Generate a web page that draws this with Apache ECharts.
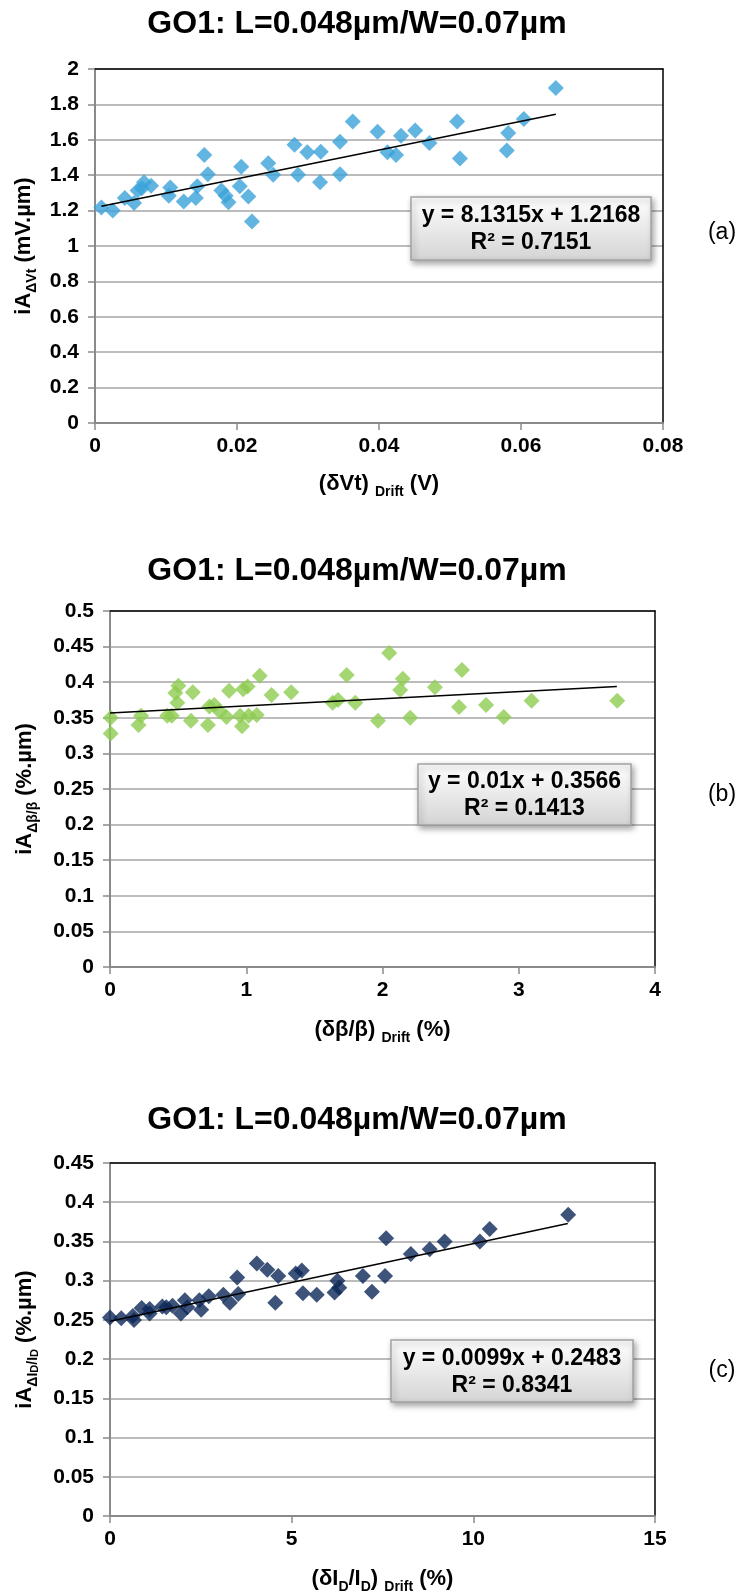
<!DOCTYPE html>
<html>
<head>
<meta charset="utf-8">
<script src="https://cdn.jsdelivr.net/npm/echarts@6/dist/echarts.min.js"></script>
<style>
html,body{margin:0;padding:0;background:#fff;}
#c{width:744px;height:1595px;}
</style>
</head>
<body>
<div id="c"></div>
<script>
// ---------- data ----------
const titleText = 'GO1: L=0.048µm/W=0.07µm';

// (a) iA_ΔVt vs (δVt) Drift
const xA = [0.0009,0.0025,0.0042,0.0055,0.0060,0.0066,0.0069,0.0079,0.0104,0.0106,0.0125,0.0142,0.0144,0.0154,0.0159,0.0178,0.0184,0.0188,0.0204,0.0206,0.0216,0.0221,0.0244,0.0251,0.0281,0.0286,0.0299,0.0318,0.0317,0.0345,0.0345,0.0363,0.0398,0.0412,0.0424,0.0431,0.0451,0.0471,0.0510,0.0514,0.0580,0.0582,0.0604,0.0649];
const yA = [1.218,1.200,1.271,1.243,1.313,1.326,1.360,1.341,1.284,1.331,1.252,1.271,1.337,1.514,1.405,1.313,1.284,1.247,1.337,1.448,1.279,1.139,1.467,1.403,1.572,1.403,1.529,1.533,1.360,1.589,1.405,1.704,1.646,1.529,1.514,1.623,1.652,1.582,1.704,1.495,1.539,1.638,1.718,1.893];
const trendAX = [0.0009, 0.0649];
const trendAY = [1.2241, 1.7445];
const eqA = ['y = 8.1315x + 1.2168', 'R² = 0.7151'];

// (b) iA_Δβ/β vs (δβ/β) Drift
const xB = [0.005,0.005,0.209,0.228,0.420,0.453,0.480,0.502,0.494,0.594,0.608,0.719,0.730,0.765,0.806,0.855,0.874,0.955,0.969,0.977,1.010,1.018,1.077,1.099,1.186,1.330,1.634,1.674,1.737,1.800,1.967,2.049,2.130,2.149,2.203,2.385,2.562,2.583,2.760,2.890,3.094,3.723];
const yB = [0.350,0.328,0.340,0.353,0.353,0.353,0.385,0.395,0.371,0.346,0.386,0.340,0.366,0.368,0.359,0.351,0.388,0.353,0.338,0.390,0.394,0.353,0.354,0.409,0.382,0.386,0.371,0.375,0.410,0.371,0.346,0.441,0.389,0.405,0.350,0.393,0.365,0.417,0.368,0.351,0.374,0.374];
const trendBX = [0, 3.72];
const trendBY = [0.3566, 0.3938];
const eqB = ['y = 0.01x + 0.3566', 'R² = 0.1413'];

// (c) iA_ΔID/ID vs (δID/ID) Drift
const xC = [0.00,0.31,0.66,0.63,0.87,1.09,1.09,1.44,1.55,1.72,1.95,2.06,2.13,2.46,2.51,2.72,3.12,3.30,3.50,3.53,4.04,4.33,4.55,4.63,5.11,5.28,5.31,5.69,6.18,6.26,6.31,6.96,7.21,7.57,7.60,8.28,8.80,9.21,10.18,10.45,12.61];
const yC = [0.253,0.252,0.250,0.255,0.265,0.258,0.264,0.267,0.266,0.268,0.258,0.275,0.266,0.275,0.263,0.280,0.282,0.272,0.304,0.283,0.322,0.314,0.272,0.306,0.309,0.313,0.284,0.282,0.285,0.300,0.291,0.306,0.286,0.306,0.354,0.334,0.340,0.350,0.350,0.366,0.384];
const trendCX = [0, 12.6];
const trendCY = [0.2483, 0.3730];
const eqC = ['y = 0.0099x + 0.2483', 'R² = 0.8341'];

const panelTags = ['(a)', '(b)', '(c)'];

// ---------- styling ----------
const FONT = '"Liberation Sans", Arial, sans-serif';
const GRIDC = '#a6a6a6';
const AXC = '#8a8a8a';

function pairs(xs, ys){ return xs.map((x,i)=>[x, ys[i]]); }

const richBase = {
  m:{fontSize:22,fontWeight:'bold',color:'#000',fontFamily:FONT,lineHeight:30,verticalAlign:'middle'},
  s:{fontSize:14,fontWeight:'bold',color:'#000',fontFamily:FONT,lineHeight:16,verticalAlign:'bottom'},
  ss:{fontSize:11,fontWeight:'bold',color:'#000',fontFamily:FONT,lineHeight:10,verticalAlign:'bottom'}
};

const grids = [
  {left:95, top:69, width:568, height:354},
  {left:110, top:611, width:545, height:356},
  {left:110, top:1163, width:545, height:355}
];

const xCfg = [
  {min:0,max:0.08,interval:0.02,name:'{m|(δVt) }{s|Drift}{m| (V)}',gap:46},
  {min:0,max:4,interval:1,name:'{m|(δβ/β) }{s|Drift}{m| (%)}',gap:48},
  {min:0,max:15,interval:5,name:'{m|(δI}{s|D}{m|/I}{s|D}{m|) }{s|Drift}{m| (%)}',gap:48}
];
const yCfg = [
  {min:0,max:2,interval:0.2,name:'{m|iA}{s|ΔVt}{m| (mV.µm)}',gap:54},
  {min:0,max:0.5,interval:0.05,name:'{m|iA}{s|Δβ/β}{m| (%.µm)}',gap:70},
  {min:0,max:0.45,interval:0.05,name:'{m|iA}{s|ΔI}{ss|D}{s|/I}{ss|D}{m| (%.µm)}',gap:70}
];

const tickLabel = {fontSize:21,fontWeight:'bold',color:'#000',fontFamily:FONT};

const xAxes = [], yAxes = [];
for (let i=0;i<3;i++){
  xAxes.push({
    type:'value', gridIndex:i, min:xCfg[i].min, max:xCfg[i].max, interval:xCfg[i].interval,
    name:xCfg[i].name, nameLocation:'middle', nameGap:xCfg[i].gap,
    nameTextStyle:{rich:richBase},
    axisLine:{show:true,lineStyle:{color:AXC,width:2}},
    axisTick:{show:true,inside:false,length:7,lineStyle:{color:AXC,width:1.5}},
    axisLabel:{...tickLabel, margin:13},
    splitLine:{show:false}
  });
  yAxes.push({
    type:'value', gridIndex:i, min:yCfg[i].min, max:yCfg[i].max, interval:yCfg[i].interval,
    name:yCfg[i].name, nameLocation:'middle', nameGap:yCfg[i].gap,
    nameTextStyle:{rich:richBase},
    axisLine:{show:true,lineStyle:{color:AXC,width:2}},
    axisTick:{show:true,inside:false,length:7,lineStyle:{color:AXC,width:1.5}},
    axisLabel:{...tickLabel, margin:16},
    splitLine:{show:true,lineStyle:{color:GRIDC,width:1.5}}
  });
}
// black frame on top and right of each plot
for (let i=0;i<3;i++){
  xAxes.push({type:'value',gridIndex:i,position:'top',min:xCfg[i].min,max:xCfg[i].max,
    axisLine:{show:true,onZero:false,lineStyle:{color:'#000',width:1.5}},
    axisTick:{show:false},axisLabel:{show:false},splitLine:{show:false}});
  yAxes.push({type:'value',gridIndex:i,position:'right',min:yCfg[i].min,max:yCfg[i].max,
    axisLine:{show:true,onZero:false,lineStyle:{color:'#000',width:1.5}},
    axisTick:{show:false},axisLabel:{show:false},splitLine:{show:false}});
}

const colors = ['#3aa2d8', '#8dcc50', '#0c2858'];
const scat = [pairs(xA,yA), pairs(xB,yB), pairs(xC,yC)];
const trends = [pairs(trendAX,trendAY), pairs(trendBX,trendBY), pairs(trendCX,trendCY)];

const series = [];
for (let i=0;i<3;i++){
  series.push({
    type:'scatter', xAxisIndex:i, yAxisIndex:i, data:scat[i], clip:false,
    symbol:'diamond', symbolSize:[16,16],
    itemStyle:{color:colors[i]}, z:3
  });
  series.push({
    type:'line', xAxisIndex:i, yAxisIndex:i, data:trends[i], showSymbol:false, symbol:'none',
    lineStyle:{color:'#000',width:1.5}, z:4, silent:true
  });
}

const titles = [24, 571, 1120].map(cy => ({
  text:titleText, left:357, top:cy, textAlign:'center', textVerticalAlign:'middle',
  textStyle:{fontSize:32,fontWeight:'bold',color:'#000',fontFamily:FONT}
}));
// keep simpler: use graphic for title positioning precision
const boxes = [
  {x:411,y:197,w:240,h:63,eq:eqA,tagY:233},
  {x:418,y:764,w:213,h:61,eq:eqB,tagY:795},
  {x:391,y:1340,w:242,h:62,eq:eqC,tagY:1371}
];
const graphic = [];
[24, 571, 1120].forEach(cy=>{
  graphic.push({type:'text', x:357, y:cy, style:{text:titleText, fill:'#000', fontSize:32, fontWeight:'bold', fontFamily:FONT, align:'center', verticalAlign:'middle'}});
});
boxes.forEach((b,i)=>{
  graphic.push({
    type:'rect', shape:{x:b.x,y:b.y,width:b.w,height:b.h}, z:10,
    style:{
      fill:new echarts.graphic.LinearGradient(0,0,0,1,[{offset:0,color:'#ffffff'},{offset:1,color:'#d4d4d4'}]),
      stroke:'#a3a3a3', lineWidth:1.5,
      shadowBlur:6, shadowOffsetX:2, shadowOffsetY:3, shadowColor:'rgba(0,0,0,0.35)'
    }
  });
  graphic.push({
    type:'text', x:b.x+b.w/2, y:b.y+b.h/2+1, z:11,
    style:{text:b.eq.join('\n'), fill:'#000', fontSize:23, fontWeight:'bold', fontFamily:FONT, align:'center', verticalAlign:'middle', lineHeight:27}
  });
  graphic.push({
    type:'text', x:722, y:b.tagY, z:11,
    style:{text:panelTags[i], fill:'#000', fontSize:23, fontFamily:FONT, align:'center', verticalAlign:'middle'}
  });
});

const chart = echarts.init(document.getElementById('c'), null, {renderer:'canvas', width:744, height:1595});
chart.setOption({
  backgroundColor:'#fff',
  animation:false,
  grid:grids,
  xAxis:xAxes,
  yAxis:yAxes,
  series:series,
  graphic:graphic
});
</script>
</body>
</html>
